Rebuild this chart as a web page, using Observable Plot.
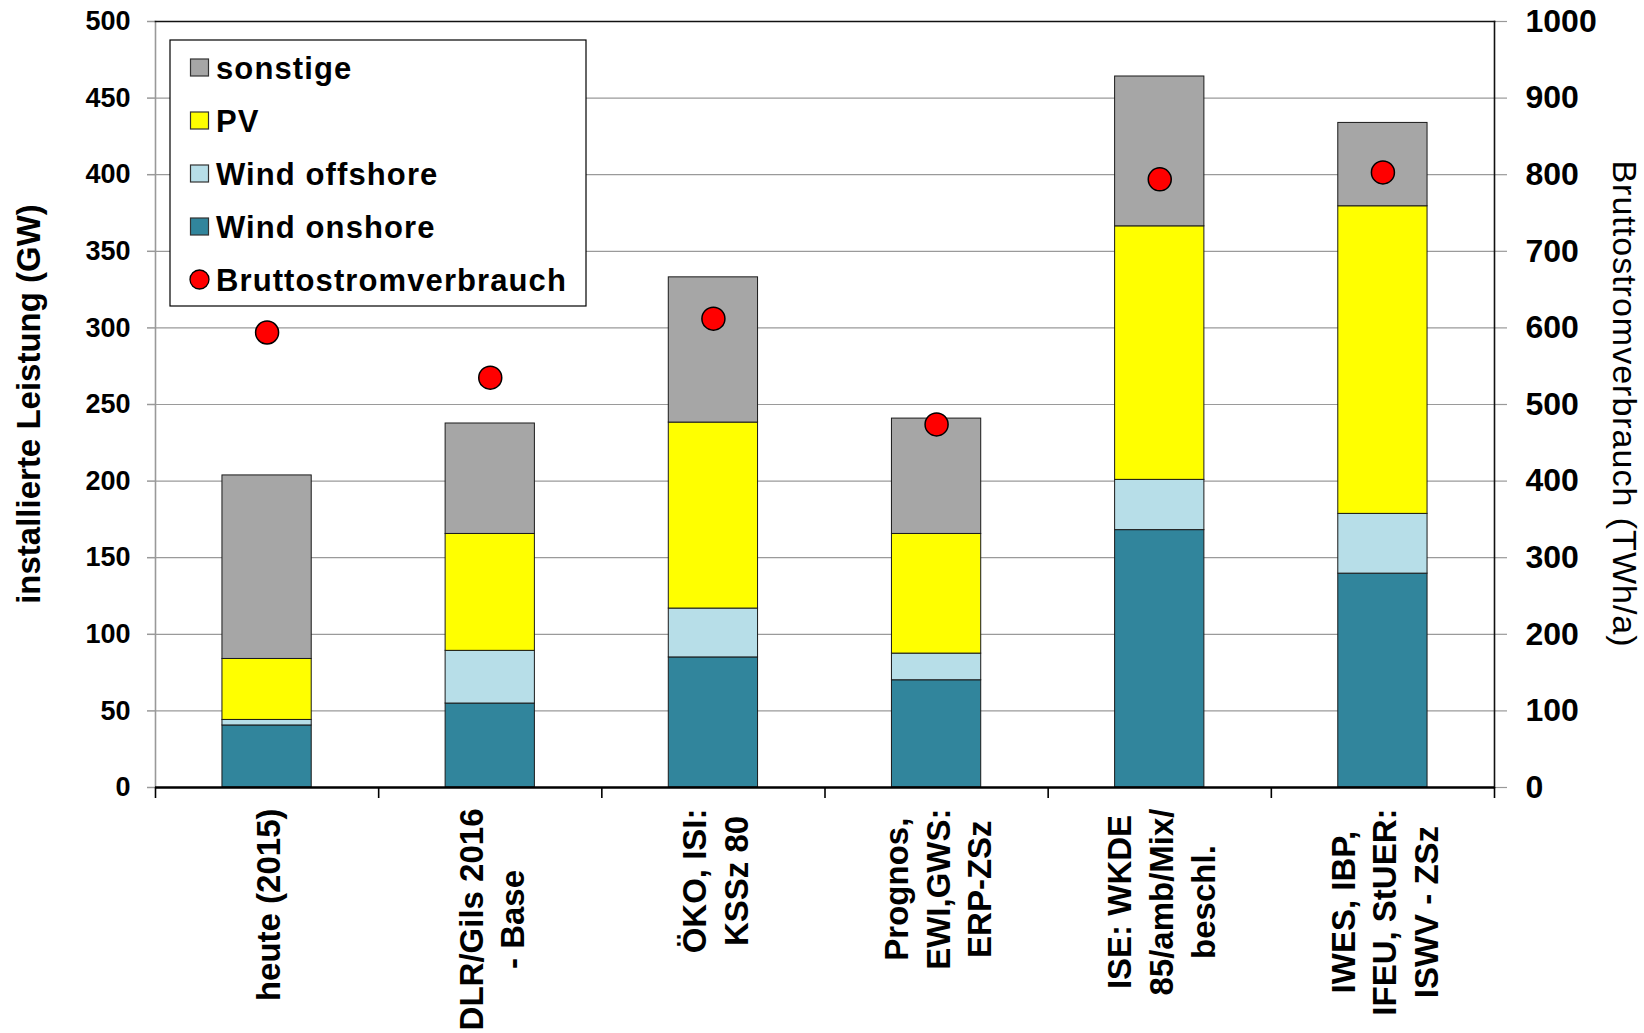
<!DOCTYPE html>
<html>
<head>
<meta charset="utf-8">
<script src="https://cdn.jsdelivr.net/npm/d3@7"></script>
<script src="https://cdn.jsdelivr.net/npm/@observablehq/plot@0.6"></script>
<style>
  body { margin: 0; background: #fff; }
  #chart svg { display: block; }
</style>
</head>
<body>
<div id="chart"></div>
<script>
// Szenarien (x-Achse), mehrzeilige Beschriftungen
const scenarios = [
  "heute (2015)",
  "DLR/Gils 2016\n- Base",
  "ÖKO, ISI:\nKSSz 80",
  "Prognos,\nEWI,GWS:\nERP-ZSz",
  "ISE: WKDE\n85/amb/Mix/\nbeschl.",
  "IWES, IBP,\nIFEU, StUER:\nISWV - ZSz"
];

// installierte Leistung in GW
const windOnshore  = [40.5, 54.8, 84.9, 70.0, 168.0, 139.6];
const windOffshore = [3.6, 34.4, 31.9, 17.4, 32.8, 39.0];
const pv           = [39.8, 76.3, 121.4, 78.1, 165.5, 200.8];
const sonstige     = [119.8, 72.1, 94.8, 75.3, 97.8, 54.4];

// Bruttostromverbrauch in TWh/a (rechte Achse)
const bruttostromverbrauch = [594, 535, 612, 474, 794, 803];

// Serien von unten nach oben
const seriesNames  = ["Wind onshore", "Wind offshore", "PV", "sonstige"];
const seriesColors = ["#31859C", "#B7DEE8", "#FFFF00", "#A6A6A6"];
const seriesValues = [windOnshore, windOffshore, pv, sonstige];

// Achsen-Ticks
const leftTicks = d3.range(0, 501, 50);
const gridTicks = d3.range(50, 500, 50);
const twhPerGw = 2; // rechte Achse 0–1000 TWh/a auf 0–500 GW

const rows = [];
seriesNames.forEach((name, s) => {
  scenarios.forEach((sc, i) => rows.push({scenario: sc, series: name, value: seriesValues[s][i]}));
});
const consumption = scenarios.map((sc, i) => ({scenario: sc, twh: bruttostromverbrauch[i]}));

const W = 1644, H = 1033;
const mL = 155, mR = 150, mT = 21, mB = 246;
const step = (W - mL - mR) / scenarios.length;
const font = "'Liberation Sans', Arial, Helvetica, sans-serif";

// Länge der längsten Zeile je Beschriftung, um die Blöcke oben bündig zu setzen
const ctx = document.createElement("canvas").getContext("2d");
const labelSize = 33;
ctx.font = `bold ${labelSize}px ${font}`;
const labelMarks = scenarios.map(sc => {
  const maxLen = d3.max(sc.split("\n"), l => ctx.measureText(l).width);
  return Plot.text([sc], {
    x: d => d,
    frameAnchor: "bottom",
    dy: 21 + maxLen / 2,
    rotate: -90,
    text: d => d,
    textAnchor: "middle",
    lineAnchor: "middle",
    lineHeight: 1.26,
    fontSize: labelSize,
    fontWeight: "bold",
    fill: "black"
  });
});

const chart = Plot.plot({
  width: W,
  height: H,
  marginLeft: mL,
  marginRight: mR,
  marginTop: mT,
  marginBottom: mB,
  style: {fontFamily: font, background: "white", color: "black", overflow: "visible"},
  x: {domain: scenarios, paddingInner: 0.6, paddingOuter: 0.3, round: false, axis: null},
  y: {domain: [0, 500], axis: null},
  color: {domain: seriesNames, range: seriesColors},
  marks: [
    Plot.gridY(gridTicks, {stroke: "#9a9a9a", strokeOpacity: 1, strokeWidth: 1.2}),
    Plot.barY(rows, {
      x: "scenario", y: "value", fill: "series",
      order: seriesNames,
      stroke: "#1a1a1a", strokeWidth: 1
    }),
    Plot.dot(consumption, {
      x: "scenario", y: d => d.twh / twhPerGw,
      r: 11.5, fill: "#FF0000", stroke: "#000", strokeWidth: 1.5
    }),
    // linke Achse
    Plot.axisY(leftTicks, {
      anchor: "left", tickSize: 8, tickPadding: 17,
      stroke: "#999", strokeWidth: 1.5, fill: "black",
      fontSize: 27, fontWeight: "bold", label: null
    }),
    // rechte Achse (TWh/a)
    Plot.axisY(leftTicks, {
      anchor: "right", tickSize: 12, tickPadding: 19,
      tickFormat: d => String(d * twhPerGw),
      stroke: "#999", strokeWidth: 1.2, fill: "black",
      fontSize: 32, fontWeight: "bold", label: null
    }),
    Plot.frame({anchor: "left", stroke: "#999", strokeWidth: 1.6}),
    Plot.frame({anchor: "right", stroke: "#111", strokeWidth: 1.6}),
    Plot.frame({anchor: "top", stroke: "#111", strokeWidth: 1.6}),
    Plot.ruleY([0], {stroke: "#000", strokeWidth: 2.6}),
    // Trennstriche zwischen den Szenarien
    Plot.axisX(scenarios, {
      anchor: "bottom", dx: -step / 2, tickSize: 11, tickFormat: () => "",
      stroke: "#000", strokeWidth: 1.6, label: null
    }),
    Plot.axisX([scenarios[scenarios.length - 1]], {
      anchor: "bottom", dx: step / 2, tickSize: 11, tickFormat: () => "",
      stroke: "#000", strokeWidth: 1.6, label: null
    }),
    ...labelMarks
  ]
});

document.getElementById("chart").appendChild(chart);

// Achsentitel und Legende
const svg = d3.select(chart);

svg.append("text")
  .attr("transform", `translate(40,${(mT + H - mB) / 2}) rotate(-90)`)
  .attr("text-anchor", "middle")
  .attr("font-family", font)
  .attr("font-size", 33)
  .attr("font-weight", "bold")
  .attr("fill", "black")
  .text("installierte Leistung (GW)");

svg.append("text")
  .attr("transform", `translate(1613,${(mT + H - mB) / 2}) rotate(90)`)
  .attr("text-anchor", "middle")
  .attr("font-family", font)
  .attr("font-size", 34)
  .attr("letter-spacing", 1)
  .attr("fill", "black")
  .text("Bruttostromverbrauch (TWh/a)");

const legendItems = [
  {label: "sonstige", color: seriesColors[3], kind: "rect"},
  {label: "PV", color: seriesColors[2], kind: "rect"},
  {label: "Wind offshore", color: seriesColors[1], kind: "rect"},
  {label: "Wind onshore", color: seriesColors[0], kind: "rect"},
  {label: "Bruttostromverbrauch", color: "#FF0000", kind: "dot"}
];
const lg = svg.append("g").attr("transform", "translate(170,40)");
lg.append("rect")
  .attr("width", 416).attr("height", 266)
  .attr("fill", "white").attr("stroke", "#000").attr("stroke-width", 1.2);
legendItems.forEach((it, i) => {
  const cy = 27.5 + i * 53;
  if (it.kind === "rect") {
    lg.append("rect")
      .attr("x", 20.5).attr("y", cy - 8.5).attr("width", 18).attr("height", 17)
      .attr("fill", it.color).attr("stroke", "#333").attr("stroke-width", 1.2);
  } else {
    lg.append("circle")
      .attr("cx", 29.5).attr("cy", cy).attr("r", 9.5)
      .attr("fill", it.color).attr("stroke", "#000").attr("stroke-width", 1.3);
  }
  lg.append("text")
    .attr("x", 46).attr("y", cy + 11)
    .attr("text-anchor", "start")
    .attr("font-family", font)
    .attr("font-size", 31)
    .attr("font-weight", "bold")
    .attr("letter-spacing", 1.1)
    .attr("fill", "black")
    .text(it.label);
});
</script>
</body>
</html>
